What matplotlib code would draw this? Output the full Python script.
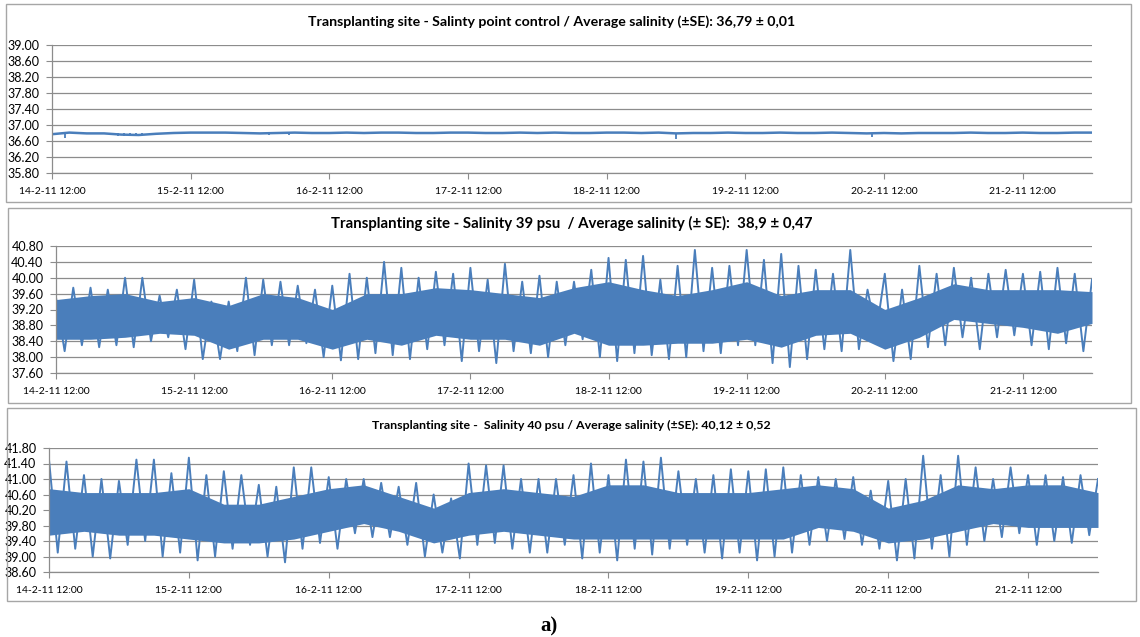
import matplotlib.pyplot as plt
from matplotlib.patches import Rectangle
from matplotlib.ticker import FormatStrFormatter
import numpy as np
import pandas as pd

plt.rcParams['font.family'] = ['Lato', 'DejaVu Sans']

# time axis: 14-2-11 12:00 -> 22-2-11 00:00
start = pd.Timestamp('2011-02-14 12:00')
end = pd.Timestamp('2011-02-22 00:00')
day_ticks = pd.date_range(start, periods=8, freq='D')
day_labels = ['14-2-11 12:00', '15-2-11 12:00', '16-2-11 12:00', '17-2-11 12:00',
              '18-2-11 12:00', '19-2-11 12:00', '20-2-11 12:00', '21-2-11 12:00']

titles = ['Transplanting site - Salinty point control / Average salinity (\u00b1SE): 36,79 \u00b1 0,01',
          'Transplanting site - Salinity 39 psu  / Average salinity (\u00b1 SE):  38,9 \u00b1 0,47',
          'Transplanting site -  Salinity 40 psu / Average salinity (\u00b1SE): 40,12 \u00b1 0,52']
ylims = [(35.8, 39.0), (37.6, 40.8), (38.6, 41.8)]

# sampling times of the values
t_3h = pd.date_range(start, periods=61, freq='3h')
t_3h_mid = pd.date_range(start + pd.Timedelta('90min'), periods=60, freq='3h')
t_6h = pd.date_range(start, periods=31, freq='6h')

# panel 1 - control point, nearly flat
p1_level = [36.77, 36.81, 36.79, 36.79, 36.76, 36.75, 36.78, 36.80, 36.81, 36.81,
            36.81, 36.80, 36.79, 36.80, 36.81, 36.80, 36.80, 36.81, 36.80, 36.81,
            36.81, 36.80, 36.80, 36.81, 36.81, 36.80, 36.80, 36.81, 36.80, 36.81,
            36.80, 36.80, 36.81, 36.81, 36.80, 36.81, 36.79, 36.80, 36.80, 36.81,
            36.80, 36.80, 36.81, 36.80, 36.80, 36.81, 36.80, 36.79, 36.80, 36.79,
            36.80, 36.80, 36.80, 36.81, 36.80, 36.80, 36.81, 36.80, 36.80, 36.81, 36.81]
p1_dip_t = pd.to_datetime(['2011-02-14 14:15', '2011-02-14 23:30', '2011-02-15 00:30',
                           '2011-02-15 01:30', '2011-02-15 02:30', '2011-02-15 03:30',
                           '2011-02-16 01:30', '2011-02-16 05:00', '2011-02-19 00:00',
                           '2011-02-20 10:00'])
p1_dip_v = [36.67, 36.72, 36.72, 36.73, 36.72, 36.74, 36.75, 36.75, 36.64, 36.70]

# panel 2 - 39 psu
p2_core_lo = [38.45, 38.45, 38.5, 38.6, 38.55, 38.2, 38.45, 38.45, 38.2, 38.45, 38.3,
              38.55, 38.45, 38.45, 38.3, 38.6, 38.3, 38.3, 38.35, 38.35, 38.45, 38.25,
              38.55, 38.6, 38.2, 38.5, 38.95, 38.85, 38.75, 38.6, 38.85]
p2_core_hi = [39.45, 39.55, 39.6, 39.4, 39.5, 39.3, 39.6, 39.5, 39.2, 39.6, 39.6,
              39.75, 39.7, 39.6, 39.5, 39.75, 39.9, 39.7, 39.55, 39.7, 39.9, 39.55,
              39.7, 39.7, 39.2, 39.5, 39.85, 39.7, 39.7, 39.7, 39.65]
p2_hi = [39.5, 39.75, 39.75, 39.7, 40.0, 40.0, 39.55, 39.7, 39.95, 39.4,
         39.4, 40.0, 39.95, 39.9, 39.8, 39.7, 39.8, 40.1, 40.0, 40.4,
         40.25, 40.0, 40.15, 40.1, 40.25, 39.95, 40.35, 39.9, 40.05, 39.9,
         39.9, 40.2, 40.5, 40.45, 40.55, 39.95, 40.3, 40.7, 40.25, 40.3,
         40.7, 40.45, 40.6, 40.3, 40.2, 40.1, 40.7, 39.7, 40.1, 39.7,
         40.3, 40.1, 40.25, 40.0, 40.1, 40.2, 40.1, 40.15, 40.25, 40.1, 39.95]
p2_lo = [38.15, 38.3, 38.25, 38.3, 38.25, 38.4, 38.5, 38.2, 37.95, 37.95,
         38.15, 38.05, 38.3, 38.3, 38.35, 38.0, 37.92, 37.95, 38.1, 38.05,
         37.95, 38.2, 38.3, 37.9, 38.15, 37.85, 38.15, 38.1, 38.0, 38.3,
         38.45, 38.0, 37.9, 38.1, 38.05, 37.95, 38.0, 38.15, 38.1, 38.3,
         38.3, 37.85, 37.75, 37.95, 38.2, 38.15, 38.2, 38.6, 37.9, 37.95,
         38.25, 38.3, 38.5, 38.2, 38.5, 38.55, 38.3, 38.2, 38.35, 38.15]

# panel 3 - 40 psu
p3_core_lo = [39.55, 39.65, 39.55, 39.55, 39.45, 39.35, 39.35, 39.45, 39.65, 39.85, 39.65,
              39.35, 39.55, 39.65, 39.55, 39.45, 39.45, 39.45, 39.45, 39.45, 39.45, 39.45,
              39.75, 39.65, 39.35, 39.45, 39.65, 39.85, 39.75, 39.75, 39.75]
p3_core_hi = [40.75, 40.65, 40.65, 40.65, 40.75, 40.35, 40.35, 40.55, 40.75, 40.85, 40.55,
              40.25, 40.65, 40.75, 40.65, 40.55, 40.85, 40.85, 40.65, 40.65, 40.65, 40.75,
              40.85, 40.75, 40.25, 40.45, 40.85, 40.75, 40.85, 40.85, 40.65]
p3_hi = [41.5, 41.45, 41.1, 41.0, 40.95, 41.5, 41.5, 41.15, 41.55, 41.1,
         41.2, 41.1, 40.85, 40.8, 41.3, 41.3, 41.05, 41.0, 41.0, 40.9,
         40.8, 40.9, 40.6, 40.5, 41.4, 41.35, 41.35, 41.0, 41.0, 41.0,
         41.1, 41.4, 41.1, 41.5, 41.45, 41.55, 41.2, 41.0, 41.1, 41.25,
         41.2, 41.25, 41.3, 41.1, 41.05, 41.0, 41.05, 40.7, 40.95, 41.0,
         41.6, 41.1, 41.6, 41.3, 41.0, 41.3, 41.1, 41.1, 41.05, 41.1, 41.0]
p3_lo = [39.1, 39.2, 39.0, 38.95, 39.3, 39.4, 39.0, 39.1, 38.9, 39.0,
         39.2, 39.3, 39.0, 38.85, 39.2, 39.35, 39.2, 39.6, 39.5, 39.5,
         39.3, 39.0, 39.1, 38.95, 39.3, 39.35, 39.2, 39.1, 39.1, 39.3,
         38.95, 39.1, 38.9, 39.2, 39.05, 39.2, 39.3, 39.1, 38.95, 39.1,
         38.9, 39.0, 39.1, 39.3, 39.4, 39.45, 39.3, 39.2, 38.9, 38.95,
         39.2, 39.0, 39.3, 39.4, 39.5, 39.6, 39.3, 39.4, 39.35, 39.55]

blue = '#4a7ebb'
grid_c = '#8c8c8c'
W, H = 1140, 637

fig = plt.figure(figsize=(W / 100, H / 100), dpi=100)

# pixel layouts: chart box, plot area, title centre
boxes = [(6, 4, 1131, 202), (8, 208, 1131, 403), (7, 408, 1136, 601)]
areas = [(52, 45, 1092, 173), (56, 246, 1092, 373), (49, 448, 1098, 572)]
title_xy = [(552, 22), (572, 223), (571, 425)]
title_size = [10.2, 10.8, 8.9]


def zigzag(hi, lo):
    # spike tops and bottoms, one after the other in time
    s = pd.concat([pd.Series(hi, index=t_3h), pd.Series(lo, index=t_3h_mid)])
    return s.sort_index()


axes = []
for i in range(3):
    bl, bt, br, bb = boxes[i]
    fig.add_artist(Rectangle((bl / W, 1 - bb / H), (br - bl) / W, (bb - bt) / H,
                             transform=fig.transFigure, fill=False,
                             ec='#a6a6a6', lw=1.0))
    l, t, r, b = areas[i]
    ax = fig.add_axes([l / W, 1 - b / H, (r - l) / W, (b - t) / H])
    axes.append(ax)
    cx, cy = title_xy[i]
    fig.text(cx / W, 1 - cy / H, titles[i], ha='center', va='center',
             fontsize=title_size[i], fontweight='bold')

    y0, y1 = ylims[i]
    ax.set_xlim(start, end)
    ax.set_ylim(y0, y1)
    ax.set_yticks(np.round(np.arange(y0, y1 + 0.01, 0.4), 2))
    ax.yaxis.set_major_formatter(FormatStrFormatter('%.2f'))
    ax.set_xticks(day_ticks)
    ax.set_xticklabels(day_labels)
    ax.grid(axis='y', color=grid_c, lw=0.9)
    ax.set_axisbelow(True)
    for s in ['top', 'right']:
        ax.spines[s].set_visible(False)
    for s in ['left', 'bottom']:
        ax.spines[s].set_color(grid_c)
        ax.spines[s].set_linewidth(0.9)
    ax.tick_params(axis='x', length=4, color=grid_c, labelsize=7.5, pad=6)
    ax.tick_params(axis='y', length=4, color=grid_c, labelsize=9, pad=5)
    ax.set_facecolor('none')

# panel 1
axes[0].plot(t_3h, p1_level, color=blue, lw=1.8)
axes[0].vlines(p1_dip_t, p1_dip_v, 36.80, color=blue, lw=1.3)

# panels 2 and 3: solid body of the signal plus the spikes around it
noisy = [(p2_core_lo, p2_core_hi, p2_hi, p2_lo), (p3_core_lo, p3_core_hi, p3_hi, p3_lo)]
for ax, (core_lo, core_hi, hi, lo) in zip(axes[1:], noisy):
    ax.fill_between(t_6h, core_lo, core_hi, color=blue, lw=0)
    z = zigzag(hi, lo)
    ax.plot(z.index, z.values, color=blue, lw=1.4)

fig.text(549 / W, 1 - 626 / H, 'a)', ha='center', va='center',
         family=['Liberation Serif', 'DejaVu Serif'], fontweight='bold', fontsize=15)

fig.savefig('out.png', dpi=100)
